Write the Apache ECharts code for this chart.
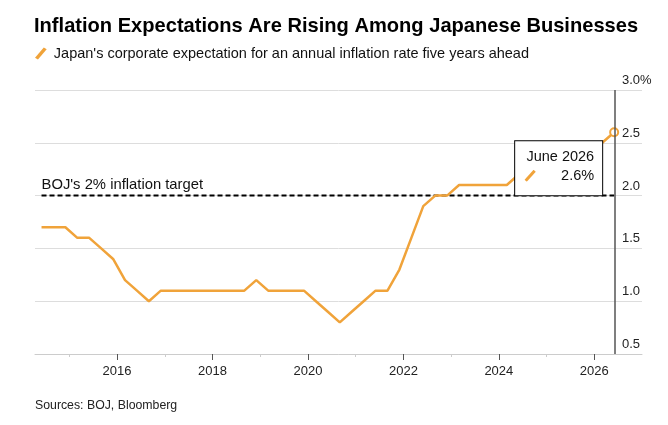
<!DOCTYPE html>
<html>
<head>
<meta charset="utf-8">
<script src="https://cdn.jsdelivr.net/npm/echarts@6/dist/echarts.min.js"></script>
<style>
  html, body { margin: 0; padding: 0; background: #fff; }
  #chart { width: 668px; height: 425px; }
</style>
</head>
<body>
<div id="chart"></div>
<script>
const FONT = '"Liberation Sans", Arial, sans-serif';
const ORANGE = '#f0a33a';

// Tankan survey months (quarterly) and firms' 5-year-ahead inflation expectation, %
const surveyMonths = [
  '2014-06', '2014-09', '2014-12',
  '2015-03', '2015-06', '2015-09', '2015-12',
  '2016-03', '2016-06', '2016-09', '2016-12',
  '2017-03', '2017-06', '2017-09', '2017-12',
  '2018-03', '2018-06', '2018-09', '2018-12',
  '2019-03', '2019-06', '2019-09', '2019-12',
  '2020-03', '2020-06', '2020-09', '2020-12',
  '2021-03', '2021-06', '2021-09', '2021-12',
  '2022-03', '2022-06', '2022-09', '2022-12',
  '2023-03', '2023-06', '2023-09', '2023-12',
  '2024-03', '2024-06', '2024-09', '2024-12',
  '2025-03', '2025-06', '2025-09', '2025-12',
  '2026-03', '2026-06',
];
const expectations = [
  1.7, 1.7, 1.7,
  1.6, 1.6, 1.5, 1.4,
  1.2, 1.1, 1.0, 1.1,
  1.1, 1.1, 1.1, 1.1,
  1.1, 1.1, 1.1, 1.2,
  1.1, 1.1, 1.1, 1.1,
  1.0, 0.9, 0.8, 0.9,
  1.0, 1.1, 1.1, 1.3,
  1.6, 1.9, 2.0, 2.0,
  2.1, 2.1, 2.1, 2.1,
  2.1, 2.2, 2.2, 2.2,
  2.2, 2.3, 2.3, 2.4,
  2.5, 2.6,
];
const bojTarget = 2;
const yearLabels = [2016, 2018, 2020, 2022, 2024, 2026];
const minorYears = [2015, 2017, 2019, 2021, 2023, 2025];
const seriesName = "Japan's corporate expectation for an annual inflation rate five years ahead";
const calloutTitle = 'June 2026';

// month string -> decimal year (first of month)
const toYear = (m) => {
  const [y, mo] = m.split('-').map(Number);
  return y + (mo - 1) / 12;
};

const xs = surveyMonths.map(toYear);
const firstX = xs[0];
const lastX = xs[xs.length - 1];
const lastVal = expectations[expectations.length - 1];

const slashIcon = 'data:image/svg+xml;utf8,' + encodeURIComponent(
  '<svg xmlns="http://www.w3.org/2000/svg" width="12" height="12"><line x1="1.5" y1="11" x2="10.5" y2="1" stroke="' + ORANGE + '" stroke-width="3"/></svg>'
);

const lineData = xs.map((x, i) => {
  if (i < xs.length - 1) return { value: [x, expectations[i]], symbol: 'none' };
  return {
    value: [x, expectations[i]],
    symbol: 'circle',
    symbolSize: 8,
    itemStyle: { color: '#fff', borderColor: ORANGE, borderWidth: 2 },
    label: {
      show: true,
      position: [-94, 14],
      formatter: `{d|${calloutTitle}}\n{i|}{v|${lastVal.toFixed(1)}%}`,
      backgroundColor: '#fff',
      borderColor: '#000',
      borderWidth: 1,
      padding: [6, 8, 10, 9],
      width: 70,
      rich: {
        d: { align: 'right', fontSize: 14.5, lineHeight: 19, color: '#111', fontFamily: FONT },
        v: { align: 'right', fontSize: 14.5, lineHeight: 19, color: '#111', fontFamily: FONT },
        i: { align: 'left', width: 12, height: 12, backgroundColor: { image: slashIcon } },
      },
    },
  };
});

const chart = echarts.init(document.getElementById('chart'), null, { renderer: 'canvas' });

const option = {
  animation: false,
  textStyle: { fontFamily: FONT },
  title: {
    text: 'Inflation Expectations Are Rising Among Japanese Businesses',
    left: 34,
    top: 16,
    padding: 0,
    textStyle: { fontSize: 20.1, fontWeight: 'bold', color: '#000', fontFamily: FONT },
  },
  legend: {
    data: [seriesName],
    left: 35,
    top: 46,
    padding: 0,
    itemWidth: 12,
    itemHeight: 12,
    itemGap: 4,
    icon: 'path://M0,10.5 L9,0 L12,1.8 L3,12.3 Z',
    textStyle: { fontSize: 14.5, color: '#111', fontFamily: FONT, padding: [0, 0, 0, 2] },
  },
  grid: { left: 35, right: 26, top: 90, bottom: 71 },
  xAxis: [
    {
      type: 'value',
      min: 2014.28,
      max: 2027,
      axisLine: { show: true, lineStyle: { color: '#cccccc', width: 1 } },
      axisTick: { show: true, length: 6, lineStyle: { color: '#555' }, customValues: yearLabels },
      axisLabel: {
        customValues: yearLabels,
        margin: 11,
        fontSize: 13,
        color: '#222',
        fontFamily: FONT,
        formatter: (v) => String(v),
      },
      splitLine: { show: false },
    },
    {
      type: 'value',
      position: 'bottom',
      min: 2014.28,
      max: 2027,
      axisLine: { show: false },
      axisTick: { show: true, length: 3, lineStyle: { color: '#cccccc' }, customValues: minorYears },
      axisLabel: { show: false },
      splitLine: { show: false },
    },
  ],
  yAxis: {
    type: 'value',
    position: 'right',
    min: 0.5,
    max: 3,
    interval: 0.5,
    axisLine: { show: false },
    axisTick: { show: false },
    splitLine: { lineStyle: { color: '#dddddd', width: 1 } },
    axisLabel: {
      margin: -20,
      align: 'left',
      verticalAlign: 'bottom',
      padding: [0, 0, 3, 0],
      fontSize: 13,
      color: '#222',
      fontFamily: FONT,
      formatter: (v) => (v === 3 ? '3.0%' : v.toFixed(1)),
    },
  },
  series: [
    {
      name: 'BOJ target',
      type: 'line',
      data: [
        {
          value: [firstX, bojTarget],
          symbol: 'circle',
          symbolSize: 1,
          itemStyle: { color: 'rgba(0,0,0,0)' },
          label: {
            show: true,
            position: 'top',
            align: 'left',
            distance: 3,
            formatter: "BOJ's 2% inflation target",
            fontSize: 14.8,
            color: '#111',
            fontFamily: FONT,
          },
        },
        { value: [lastX, bojTarget], symbol: 'none' },
      ],
      showSymbol: true,
      lineStyle: { color: '#000', width: 2, type: [5, 3] },
      silent: true,
      z: 1,
    },
    {
      name: seriesName,
      type: 'line',
      data: lineData,
      color: ORANGE,
      lineStyle: { color: ORANGE, width: 2.5 },
      showSymbol: true,
      z: 3,
      markLine: {
        silent: true,
        symbol: 'none',
        label: { show: false },
        lineStyle: { color: '#555', width: 1.5, type: 'solid' },
        data: [{ xAxis: lastX }],
      },
    },
  ],
  graphic: [
    {
      type: 'text',
      left: 35,
      top: 400,
      style: { text: 'Sources: BOJ, Bloomberg', fontSize: 12.3, fill: '#222', fontFamily: FONT },
    },
  ],
};

chart.setOption(option);
</script>
</body>
</html>
